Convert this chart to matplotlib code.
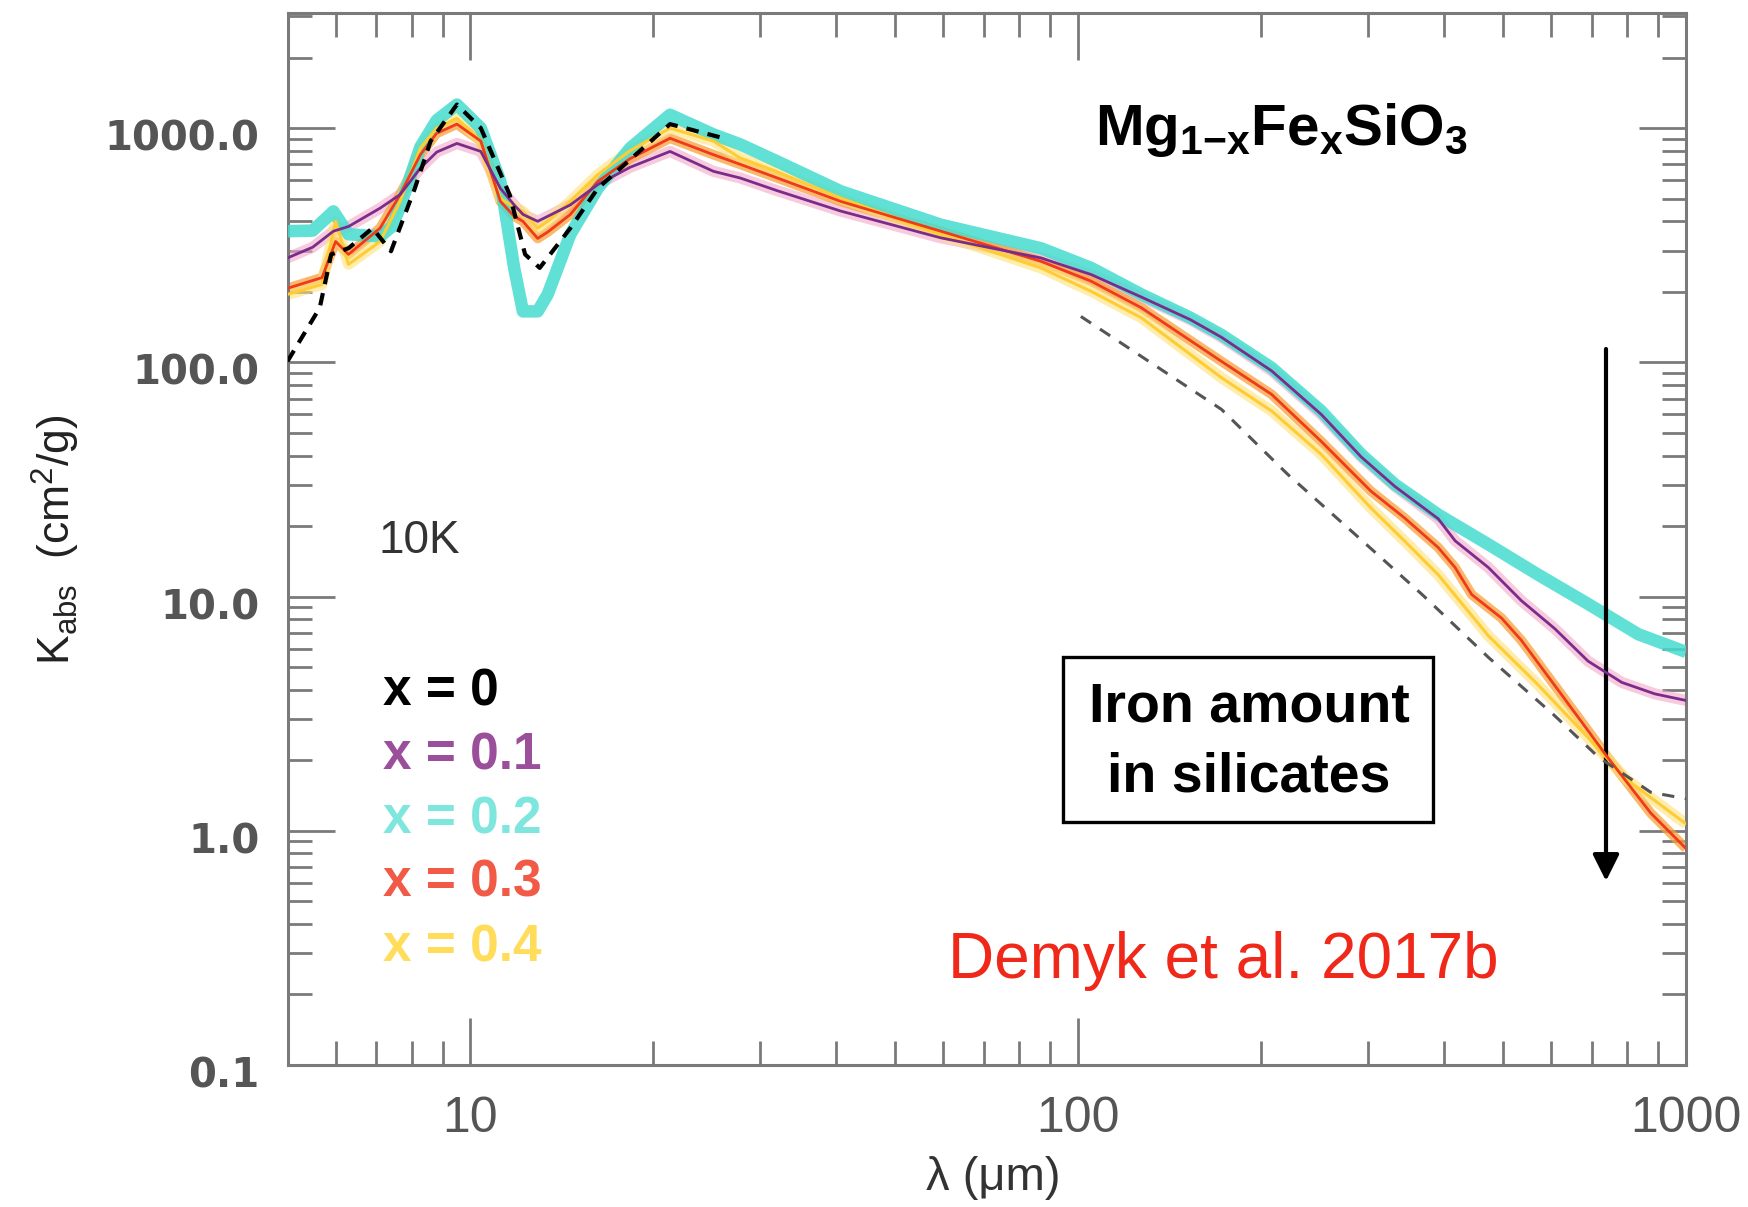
import matplotlib
matplotlib.use("Agg")
import matplotlib.pyplot as plt
from matplotlib.ticker import FixedLocator, FixedFormatter, LogLocator, NullFormatter
from matplotlib.patches import Rectangle
from matplotlib.transforms import ScaledTranslation

# ---------------- data ----------------
lam_x02 = [5.0, 5.5, 5.95, 6.3, 7.1, 7.43, 7.66, 8.27, 8.8, 9.5, 10.4, 11.2, 11.8, 12.2, 12.9, 13.4,
           14.6, 16.2, 18.3, 21.3, 25.1, 27.8, 32, 40.7, 59.4, 86.8, 105, 127, 153, 172, 208, 251,
           292, 332, 391, 473, 571, 690, 835, 1000]
k_x02 = [363, 365, 441, 352, 345, 380, 460, 830, 1080, 1260, 1000, 592, 253, 165, 165, 195,
         352, 553, 820, 1140, 940, 852, 720, 537, 387, 307, 253, 195, 155, 131, 94.8, 62,
         40.5, 30.1, 22.4, 16.7, 12.4, 9.3, 6.9, 5.8]

lam_x01 = [5.0, 5.5, 5.95, 6.3, 7.1, 7.66, 8.27, 8.8, 9.5, 10.4, 11.2, 11.8, 12.2, 12.9, 13.4, 14.6,
           16.2, 18.3, 21.3, 25.1, 27.8, 32, 40.7, 59.4, 86.8, 105, 127, 153, 172, 208, 251, 292,
           332, 391, 417, 473, 536, 608, 690, 784, 889, 1000]
k_x01 = [279, 310, 363, 380, 455, 520, 674, 790, 860, 795, 553, 470, 428, 400, 420, 470,
         574, 680, 795, 654, 612, 540, 442, 340, 279, 237, 190, 152, 128, 92, 60, 39.5,
         29.5, 21.5, 17.3, 13.3, 9.6, 7.3, 5.3, 4.3, 3.84, 3.6]

lam_x03 = [5.0, 5.7, 6.0, 6.3, 7.1, 7.66, 8.27, 8.8, 9.5, 10.4, 11.2, 11.8, 12.2, 12.9, 13.4, 14.6,
           16.2, 18.3, 21.3, 25.1, 27.8, 32, 40.7, 59.4, 86.8, 105, 127, 172, 208, 251, 303, 344,
           391, 417, 444, 497, 536, 620, 743, 875, 1000]
k_x03 = [207, 230, 328, 289, 374, 520, 770, 950, 1040, 880, 487, 420, 400, 338, 360, 428,
         592, 740, 905, 770, 700, 612, 486, 363, 270, 222, 171, 101, 73, 46, 28.2, 21.7,
         16.2, 13.3, 10.2, 8.1, 6.5, 3.9, 2.06, 1.19, 0.84]

lam_x04 = [5.0, 5.7, 6.0, 6.3, 7.1, 7.66, 8.27, 8.8, 9.5, 10.4, 11.2, 11.8, 12.2, 12.9, 13.4, 14.6,
           16.2, 18.3, 21.3, 25.1, 27.8, 32, 40.7, 59.4, 86.8, 105, 127, 172, 208, 251, 303, 344,
           391, 473, 571, 690, 800, 1000]
k_x04 = [195, 215, 400, 262, 328, 487, 820, 1000, 1100, 880, 500, 460, 441, 374, 400, 487,
         633, 800, 1000, 880, 745, 650, 502, 351, 253, 201, 155, 86, 62, 40.5, 23.9, 17.3,
         12.4, 6.8, 4.2, 2.5, 1.65, 1.07]

lam_x0_mir = [5.0, 5.65, 5.9, 6.3, 6.9, 7.4, 8.1, 8.6, 9.5, 10.4, 11.6, 12.3, 13.0, 14.6, 16.2, 21.3, 26.1]
k_x0_mir = [101, 171, 289, 307, 374, 298, 553, 880, 1260, 1000, 520, 289, 253, 374, 553, 1040, 905]

lam_x0_fir = [101, 172, 221, 285, 368, 473, 608, 718, 875, 1000]
k_x0_fir = [157, 63, 33.3, 18.5, 10.2, 5.5, 3.1, 2.06, 1.46, 1.37]

y_ticks = [0.1, 1, 10, 100, 1000]
y_ticklabels = ["0.1", "1.0", "10.0", "100.0", "1000.0"]
x_ticks = [10, 100, 1000]
x_ticklabels = ["10", "100", "1000"]

legend_labels = ["x = 0", "x = 0.1", "x = 0.2", "x = 0.3", "x = 0.4"]
legend_colors = ["#000000", "#9B4F9B", "#7FE6DD", "#F05A46", "#FFDC5A"]

# ---------------- styling ----------------
plt.rcParams['mathtext.fontset'] = 'custom'
plt.rcParams['mathtext.rm'] = 'Liberation Sans'
plt.rcParams['mathtext.it'] = 'Liberation Sans:italic'
plt.rcParams['mathtext.bf'] = 'Liberation Sans:bold'

W, H = 1749, 1207
fig = plt.figure(figsize=(W / 100, H / 100), dpi=100)
ax = fig.add_axes([287.5 / W, 1 - 1065 / H, (1686 - 287.5) / W, (1065 - 13) / H])
ax.set_xscale('log')
ax.set_yscale('log')
ax.set_xlim(5, 1000)
ax.set_ylim(0.1, 3100)

frame_col = '#7a7a7a'
for s in ax.spines.values():
    s.set_color(frame_col)
    s.set_linewidth(2.2)

# bands (uncertainty) drawn as thick translucent strokes, then lines
ax.plot(lam_x01, k_x01, color='#F2A7C9', lw=8, alpha=0.6, solid_capstyle='butt', solid_joinstyle='round', zorder=2)
ax.plot(lam_x03, k_x03, color='#F7A13A', lw=7, alpha=0.75, solid_capstyle='butt', solid_joinstyle='round', zorder=2)
ax.plot(lam_x04, k_x04, color='#FFE27A', lw=8, alpha=0.6, solid_capstyle='butt', solid_joinstyle='round', zorder=2)
ax.plot(lam_x02, k_x02, color='#45DCCF', lw=9, alpha=0.85, solid_capstyle='butt', solid_joinstyle='round', zorder=3)
ax.plot(lam_x04, k_x04, color='#FFCC33', lw=2.2, zorder=4)
ax.plot(lam_x03, k_x03, color='#F03A1A', lw=2.0, zorder=4)
ax.plot(lam_x01, k_x01, color='#7A2C8C', lw=2.0, zorder=5)
ax.plot(lam_x0_mir, k_x0_mir, color='black', lw=3, linestyle=(0, (3, 2.2)), zorder=6)
ax.plot(lam_x0_fir, k_x0_fir, color='#555555', lw=2.2, linestyle=(0, (4, 3.5)), zorder=6)

# ticks
ax.xaxis.set_major_locator(FixedLocator(x_ticks))
ax.xaxis.set_major_formatter(FixedFormatter(x_ticklabels))
ax.xaxis.set_minor_locator(LogLocator(base=10, subs=range(2, 10), numticks=20))
ax.xaxis.set_minor_formatter(NullFormatter())
ax.yaxis.set_major_locator(FixedLocator(y_ticks))
ax.yaxis.set_major_formatter(FixedFormatter(y_ticklabels))
ax.yaxis.set_minor_locator(LogLocator(base=10, subs=range(2, 10), numticks=20))
ax.yaxis.set_minor_formatter(NullFormatter())

ax.tick_params(which='both', direction='in', top=True, right=True, color=frame_col, width=2)
ax.tick_params(which='major', length=34)
ax.tick_params(which='minor', length=17)
ax.tick_params(axis='y', which='major', pad=20, labelsize=29, labelcolor='#555555')
ax.tick_params(axis='x', which='major', pad=22, labelsize=36, labelcolor='#555555')
for lab in ax.get_yticklabels():
    lab.set_fontfamily('DejaVu Sans')
    lab.set_fontweight('bold')
    lab.set_transform(lab.get_transform() + ScaledTranslation(0, -7 / 100, fig.dpi_scale_trans))
for lab in ax.get_xticklabels():
    lab.set_fontfamily(['Liberation Sans Narrow', 'Liberation Sans'])

# axis labels
fig.text(993 / W, 1 - 1178 / H, 'λ (μm)', ha='center', va='center', fontsize=34,
         family=['Liberation Sans Narrow', 'Liberation Sans'], color='#333333')
fig.text(56 / W, 1 - 540 / H, r'K$_{\rm abs}$  (cm$^{2}$/g)', rotation=90, ha='center', va='center',
         fontsize=32, family='Liberation Sans', color='#222222')

# title formula
fig.text(1281 / W, 1 - 145 / H, r'$\mathbf{Mg_{1{-}x}Fe_{x}SiO_{3}}$', ha='center', va='baseline',
         fontsize=42, color='black')

# temperature
fig.text(379 / W, 1 - 541 / H, '10K', ha='left', va='center', fontsize=33,
         family='Liberation Sans', color='#333333')

# legend texts
leg_y = [692, 756, 820, 883, 948]
for lab, col, yy in zip(legend_labels, legend_colors, leg_y):
    fig.text(383 / W, 1 - yy / H, lab, ha='left', va='center', fontsize=37,
             family='Liberation Sans', fontweight='bold', color=col)

# boxed annotation
fig.patches.append(Rectangle((1063 / W, 1 - 822 / H), 370 / W, 165 / H, transform=fig.transFigure,
                             fill=False, edgecolor='black', linewidth=2.4))
fig.text(1249 / W, 1 - 708 / H, 'Iron amount', ha='center', va='center', fontsize=40,
         family='Liberation Sans', fontweight='bold', color='black')
fig.text(1249 / W, 1 - 777 / H, 'in silicates', ha='center', va='center', fontsize=40,
         family='Liberation Sans', fontweight='bold', color='black')

# arrow
ax.annotate('', xy=(1606 / W, 1 - 881 / H), xytext=(1606 / W, 1 - 349 / H),
            xycoords='figure fraction', textcoords='figure fraction',
            arrowprops=dict(arrowstyle='-|>', lw=3, color='black', mutation_scale=40,
                            shrinkA=0, shrinkB=0))

# reference
fig.text(948 / W, 1 - 961 / H, 'Demyk et al. 2017b', ha='left', va='center', fontsize=46,
         family='Liberation Sans', color='#F0281A')

fig.savefig('out.png', dpi=100, facecolor='white')
